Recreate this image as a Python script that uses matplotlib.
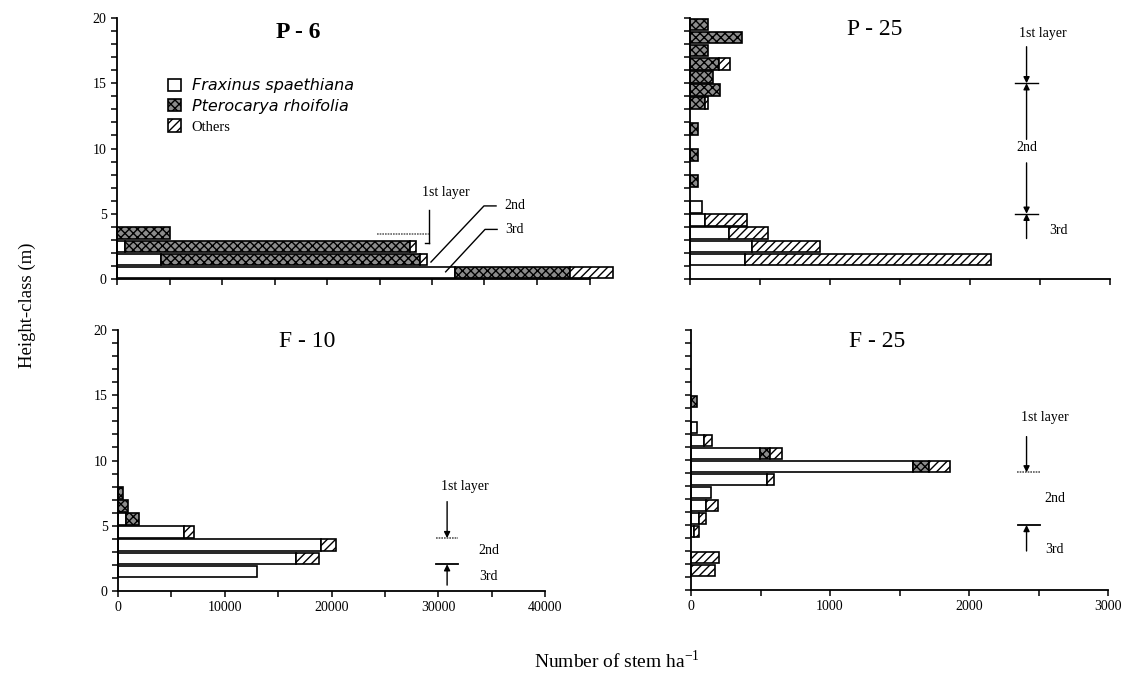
import matplotlib
matplotlib.use("Agg")
import matplotlib.pyplot as plt
import numpy as np

# ---------------- data (height classes 0-1 ... 19-20 m) ----------------
classes = np.arange(20)

p6_frax = [32200, 4150, 750, 0, 0, 0, 0, 0, 0, 0, 0, 0, 0, 0, 0, 0, 0, 0, 0, 0]
p6_ptero = [10950, 24700, 27200, 5000, 0, 0, 0, 0, 0, 0, 0, 0, 0, 0, 0, 0, 0, 0, 0, 0]
p6_others = [4100, 650, 500, 0, 0, 0, 0, 0, 0, 0, 0, 0, 0, 0, 0, 0, 0, 0, 0, 0]

p25_frax = [0, 390, 440, 275, 110, 85, 0, 0, 0, 0, 0, 0, 0, 0, 0, 0, 0, 0, 0, 0]
p25_ptero = [0, 0, 0, 0, 0, 0, 0, 55, 0, 55, 0, 55, 0, 110, 215, 165, 210, 130, 370, 130]
p25_others = [0, 1760, 485, 285, 295, 0, 0, 0, 0, 0, 0, 0, 0, 20, 0, 0, 75, 0, 0, 0]

f10_frax = [0, 13000, 16650, 19050, 6150, 750, 0, 0, 0, 0, 0, 0, 0, 0, 0, 0, 0, 0, 0, 0]
f10_ptero = [0, 0, 0, 0, 0, 1250, 900, 450, 0, 0, 0, 0, 0, 0, 0, 0, 0, 0, 0, 0]
f10_others = [0, 0, 2200, 1400, 950, 0, 0, 0, 0, 0, 0, 0, 0, 0, 0, 0, 0, 0, 0, 0]

f25_frax = [0, 0, 0, 0, 20, 55, 105, 145, 550, 1600, 495, 95, 40, 0, 0, 0, 0, 0, 0, 0]
f25_ptero = [0, 0, 0, 0, 0, 0, 0, 0, 0, 115, 70, 0, 0, 0, 45, 0, 0, 0, 0, 0]
f25_others = [0, 170, 200, 0, 35, 55, 90, 0, 50, 145, 90, 55, 0, 0, 0, 0, 0, 0, 0, 0]

series_names = ["Fraxinus spaethiana", "Pterocarya rhoifolia", "Others"]
panel_titles = ["P - 6", "P - 25", "F - 10", "F - 25"]
y_ticklabels = ["0", "5", "10", "15", "20"]

# ---------------- styling ----------------
plt.rcParams["font.family"] = ["Liberation Serif", "DejaVu Serif"]
plt.rcParams["hatch.linewidth"] = 1.0
SERIF = "Liberation Serif"

W, H = 1129, 678
fig = plt.figure(figsize=(W / 100, H / 100), dpi=100)

styles = [
    dict(facecolor="white", edgecolor="black", hatch=None),
    dict(facecolor="#8c8c8c", edgecolor="black", hatch="xxxx"),
    dict(facecolor="white", edgecolor="black", hatch="////"),
]


def make_ax(x0, x1, y0, y1, xmax):
    ax = fig.add_axes([x0 / W, 1 - y0 / H, (x1 - x0) / W, (y0 - y1) / H])
    ax.set_xlim(0, xmax)
    ax.set_ylim(0, 20)
    ax.patch.set_alpha(0)
    for s in ("top", "right"):
        ax.spines[s].set_visible(False)
    for s in ("left", "bottom"):
        ax.spines[s].set_linewidth(1.3)
    ax.set_yticks(range(0, 21, 5))
    ax.set_yticks(range(0, 21), minor=True)
    ax.tick_params(which="both", direction="out", length=4, width=1.1,
                   labelsize=10)
    return ax


def draw_bars(ax, frax, ptero, others):
    frax = np.array(frax, float)
    ptero = np.array(ptero, float)
    others = np.array(others, float)
    lefts = [np.zeros(20), frax, frax + ptero]
    handles = []
    for vals, left, st, name in zip([frax, ptero, others], lefts, styles, series_names):
        m = vals > 0
        h = ax.barh(classes[m] + 0.5, vals[m], left=left[m], height=0.9,
                    facecolor=st["facecolor"], edgecolor=st["edgecolor"],
                    hatch=st["hatch"], linewidth=1.2, label=name, clip_on=False)
        handles.append(h)
    return handles


arrow_kw = dict(arrowstyle="-|>", color="black", lw=1.0, mutation_scale=9,
                shrinkA=0, shrinkB=0)

# ---------------- P - 6 ----------------
ax1 = make_ax(117, 621, 279, 18, 48000)
ax1.spines["bottom"].set_bounds(0, 45000)
ax1.set_xticks(np.arange(0, 45001, 5000))
ax1.tick_params(axis="x", labelbottom=False)
ax1.set_yticklabels(y_ticklabels)
h = draw_bars(ax1, p6_frax, p6_ptero, p6_others)
ax1.text(17300, 18.9, panel_titles[0], ha="center", va="center",
         fontsize=17, family=SERIF, fontweight="bold")
leg = ax1.legend(handles=h, loc="upper left", bbox_to_anchor=(0.085, 0.80),
                 frameon=False, borderpad=0, handlelength=0.8, handleheight=0.8,
                 handletextpad=0.7, labelspacing=0.35, fontsize=11.5)
for t in leg.get_texts()[:2]:
    t.set_family("DejaVu Sans")
    t.set_style("italic")
leg.get_texts()[2].set_family(SERIF)
leg.get_texts()[2].set_fontsize(10.5)
# layer annotations
ax1.text(31300, 6.6, "1st layer", ha="center", va="center", fontsize=10, family=SERIF)
ax1.plot([29700, 29700], [5.3, 2.75], color="black", lw=1.0)
ax1.plot([29700, 29300], [2.75, 2.75], color="black", lw=1.0)
ax1.plot([24800, 29700], [3.45, 3.45], color="0.4", lw=1.2, ls=(0, (1, 0.6)))
ax1.plot([29900, 34950, 36100], [1.3, 5.6, 5.6], color="black", lw=1.0)
ax1.text(36900, 5.6, "2nd", ha="left", va="center", fontsize=10, family=SERIF)
ax1.plot([31300, 35050, 36200], [0.55, 3.8, 3.8], color="black", lw=1.0)
ax1.text(37000, 3.8, "3rd", ha="left", va="center", fontsize=10, family=SERIF)

# ---------------- P - 25 ----------------
ax2 = make_ax(690, 1110, 279, 18, 3000)
ax2.set_xticks(np.arange(0, 3001, 500))
ax2.tick_params(axis="x", labelbottom=False)
ax2.tick_params(axis="y", labelleft=False)
draw_bars(ax2, p25_frax, p25_ptero, p25_others)
ax2.text(1320, 19.1, panel_titles[1], ha="center", va="center", fontsize=17, family=SERIF)
xa = 2404
ax2.text(2520, 18.85, "1st layer", ha="center", va="center", fontsize=10, family=SERIF)
ax2.annotate("", xy=(xa, 15), xytext=(xa, 17.8), arrowprops=arrow_kw)
ax2.plot([2320, 2485], [15, 15], color="black", lw=1.0)
ax2.annotate("", xy=(xa, 15), xytext=(xa, 10.7), arrowprops=arrow_kw)
ax2.text(xa, 10.1, "2nd", ha="center", va="center", fontsize=10, family=SERIF)
ax2.annotate("", xy=(xa, 5), xytext=(xa, 8.9), arrowprops=arrow_kw)
ax2.plot([2320, 2485], [5, 5], color="black", lw=1.0)
ax2.annotate("", xy=(xa, 5), xytext=(xa, 3.1), arrowprops=arrow_kw)
ax2.text(2630, 3.75, "3rd", ha="center", va="center", fontsize=10, family=SERIF)

# ---------------- F - 10 ----------------
ax3 = make_ax(118, 545, 591, 330, 40000)
ax3.set_xticks(np.arange(0, 40001, 10000))
ax3.set_xticks(np.arange(0, 40001, 5000), minor=True)
ax3.set_yticklabels(y_ticklabels)
draw_bars(ax3, f10_frax, f10_ptero, f10_others)
ax3.text(17750, 19.1, panel_titles[2], ha="center", va="center", fontsize=17, family=SERIF)
xa = 30830
ax3.text(32500, 8.0, "1st layer", ha="center", va="center", fontsize=10, family=SERIF)
ax3.annotate("", xy=(xa, 4.05), xytext=(xa, 6.85), arrowprops=arrow_kw)
ax3.plot([29780, 31870], [4.05, 4.05], color="0.35", lw=1.2, ls=(0, (1, 0.6)))
ax3.text(33800, 3.1, "2nd", ha="left", va="center", fontsize=10, family=SERIF)
ax3.plot([29780, 31870], [2.05, 2.05], color="black", lw=1.3)
ax3.annotate("", xy=(xa, 2.05), xytext=(xa, 0.45), arrowprops=arrow_kw)
ax3.text(33800, 1.1, "3rd", ha="left", va="center", fontsize=10, family=SERIF)

# ---------------- F - 25 ----------------
ax4 = make_ax(691, 1108, 590, 330, 3000)
ax4.set_xticks(np.arange(0, 3001, 1000))
ax4.set_xticks(np.arange(0, 3001, 500), minor=True)
ax4.tick_params(axis="y", labelleft=False)
draw_bars(ax4, f25_frax, f25_ptero, f25_others)
ax4.text(1338, 19.1, panel_titles[3], ha="center", va="center", fontsize=17, family=SERIF)
xa = 2414
ax4.text(2545, 13.3, "1st layer", ha="center", va="center", fontsize=10, family=SERIF)
ax4.annotate("", xy=(xa, 9.05), xytext=(xa, 11.8), arrowprops=arrow_kw)
ax4.plot([2342, 2510], [9.05, 9.05], color="0.35", lw=1.2, ls=(0, (1, 0.6)))
ax4.text(2617, 7.05, "2nd", ha="center", va="center", fontsize=10, family=SERIF)
ax4.plot([2350, 2510], [5.0, 5.0], color="black", lw=1.3)
ax4.annotate("", xy=(xa, 5.0), xytext=(xa, 3.0), arrowprops=arrow_kw)
ax4.text(2617, 3.1, "3rd", ha="center", va="center", fontsize=10, family=SERIF)

# ---------------- shared labels ----------------
fig.text(27 / W, 1 - 305 / H, "Height-class (m)", rotation=90, ha="center",
         va="center", fontsize=13.5, family=SERIF)
fig.text(617 / W, 1 - 661 / H, "Number of stem ha$^{\\mathregular{-1}}$", ha="center",
         va="center", fontsize=14, family=SERIF)

fig.savefig("out.png", dpi=100)
